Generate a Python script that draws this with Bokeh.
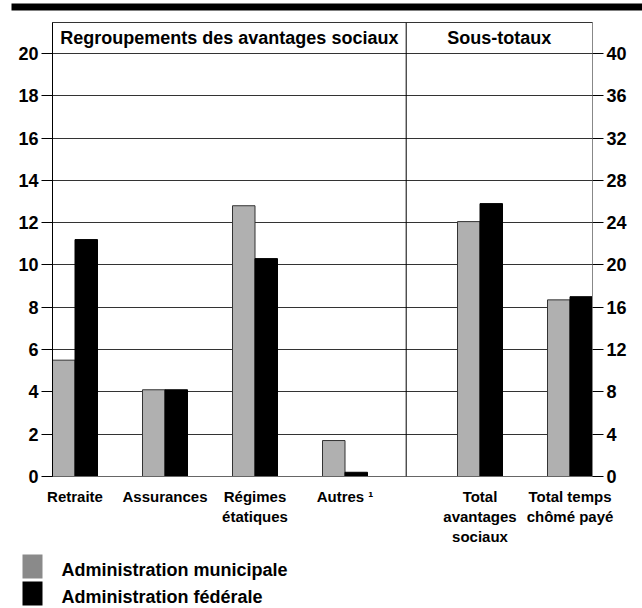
from bokeh.plotting import figure
from bokeh.layouts import column, row
from bokeh.models import Range1d, LinearAxis, FixedTicker, ColumnDataSource, Span
from bokeh.embed import file_html
from bokeh.resources import INLINE
from bokeh.core.properties import value

# ---------------- data ----------------
group_labels = ["Retraite", "Assurances", "Régimes\nétatiques", "Autres ¹"]
subtotal_labels = ["Total\navantages\nsociaux", "Total temps\nchômé payé"]
municipal_groups = [5.5, 4.1, 12.8, 1.7]
federal_groups = [11.2, 4.1, 10.3, 0.2]
municipal_subtotals = [24.1, 16.7]
federal_subtotals = [25.8, 17.0]
left_ticks = [0, 2, 4, 6, 8, 10, 12, 14, 16, 18, 20]
right_ticks = [0, 4, 8, 12, 16, 20, 24, 28, 32, 36, 40]
series_names = ["Administration municipale", "Administration fédérale"]
header_left = "Regroupements des avantages sociaux"
header_right = "Sous-totaux"

# ---------------- layout / style ----------------
FONT = "Liberation Sans"
GREY = "#b0b0b0"
LEGEND_GREY = "#8a8a8a"
BAR_W = 0.25
group_slots = [0, 1, 2, 3]
subtotal_slots = [4.5, 5.5]
DIVIDER = 3.93
YMAX = 20 * 455 / 424  # frame extends above 20 to hold the header box
W = 642
BAND_H = 22
MAIN_H = 526
LEG_H = 60


def bare(fig):
    fig.grid.visible = False
    fig.outline_line_color = None
    fig.min_border = 0
    fig.border_fill_color = "white"
    fig.background_fill_color = "white"


# ---------------- top band ----------------
band = figure(width=W, height=BAND_H, x_range=Range1d(0, W), y_range=Range1d(BAND_H, 0),
              output_backend="svg", toolbar_location=None,
              x_axis_location=None, y_axis_location=None)
bare(band)
band.quad(left=[11], right=[W], top=[3], bottom=[10], fill_color="black", line_color=None)

# ---------------- main chart ----------------
p = figure(width=W, height=MAIN_H, x_range=Range1d(0, 6), y_range=Range1d(0, YMAX),
           output_backend="svg", toolbar_location=None,
           min_border_left=52, min_border_right=50, min_border_top=0, min_border_bottom=71)
p.extra_y_ranges = {"right": Range1d(0, 2 * YMAX)}
p.background_fill_color = "white"
p.border_fill_color = "white"
p.outline_line_color = "#333333"

p.xgrid.visible = False
p.ygrid.ticker = FixedTicker(ticks=left_ticks)
p.ygrid.grid_line_color = "#333333"
p.ygrid.grid_line_width = 1


def style_y(ax, line_color):
    ax.axis_line_color = line_color
    ax.major_tick_line_color = "black"
    ax.major_tick_out = 11
    ax.major_tick_in = 0
    ax.minor_tick_line_color = None
    ax.major_label_standoff = 3
    ax.major_label_text_font = FONT
    ax.major_label_text_font_style = "bold"
    ax.major_label_text_font_size = "18px"
    ax.major_label_text_color = "black"


yl = p.yaxis[0]
yl.ticker = FixedTicker(ticks=left_ticks)
style_y(yl, "black")

yr = LinearAxis(y_range_name="right", ticker=FixedTicker(ticks=right_ticks))
style_y(yr, "#888888")
p.add_layout(yr, "right")

centers = [s + BAR_W for s in group_slots] + [s + BAR_W for s in subtotal_slots]
labels = group_labels + subtotal_labels
xa = p.xaxis[0]
xa.ticker = FixedTicker(ticks=centers)
xa.major_label_overrides = {c: l for c, l in zip(centers, labels)}
xa.major_tick_line_color = None
xa.major_tick_out = 0
xa.major_tick_in = 0
xa.minor_tick_line_color = None
xa.axis_line_color = "#666666"
xa.major_label_standoff = 11
xa.major_label_text_font = FONT
xa.major_label_text_font_style = "bold"
xa.major_label_text_font_size = "15px"
xa.major_label_text_color = "black"

src_g = ColumnDataSource(dict(
    xm=[s + BAR_W / 2 for s in group_slots], xf=[s + 1.5 * BAR_W for s in group_slots],
    m=municipal_groups, f=federal_groups))
src_s = ColumnDataSource(dict(
    xm=[s + BAR_W / 2 for s in subtotal_slots], xf=[s + 1.5 * BAR_W for s in subtotal_slots],
    m=municipal_subtotals, f=federal_subtotals))
p.vbar(x="xm", top="m", width=BAR_W, source=src_g, fill_color=GREY, line_color="#333333")
p.vbar(x="xf", top="f", width=BAR_W, source=src_g, fill_color="black", line_color="black")
p.vbar(x="xm", top="m", width=BAR_W, source=src_s, fill_color=GREY, line_color="#333333",
       y_range_name="right")
p.vbar(x="xf", top="f", width=BAR_W, source=src_s, fill_color="black", line_color="black",
       y_range_name="right")

p.add_layout(Span(location=DIVIDER, dimension="height", line_color="black", line_width=1))
hy = (20 + YMAX) / 2
p.text(x=[DIVIDER / 2, (DIVIDER + 6) / 2], y=[hy, hy], text=[header_left, header_right],
       text_font=value(FONT), text_font_style="bold", text_font_size="18px",
       text_align="center", text_baseline="middle", text_color="black")

# ---------------- legend ----------------
leg = figure(width=W, height=LEG_H, x_range=Range1d(0, W), y_range=Range1d(LEG_H, 0),
             output_backend="svg", toolbar_location=None,
             x_axis_location=None, y_axis_location=None)
bare(leg)
sq_top = [6, 33]
leg.quad(left=[22, 22], right=[42, 42], top=sq_top, bottom=[t + 24 for t in sq_top],
         fill_color=[LEGEND_GREY, "black"], line_color=None)
leg.text(x=[61, 61], y=[t + 15 for t in sq_top], text=series_names,
         text_font=value(FONT), text_font_style="bold", text_font_size="18px",
         text_align="left", text_baseline="middle", text_color="black")

layout = column(row(band), row(p), row(leg), spacing=0)
open("out.html", "w").write(file_html(layout, INLINE))
